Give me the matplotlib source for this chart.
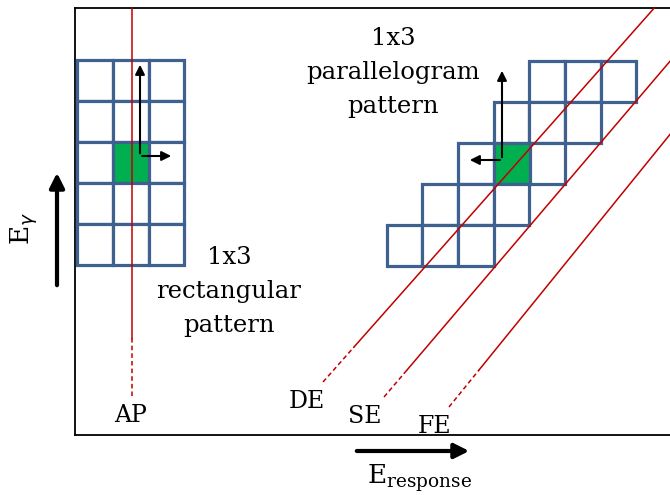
import matplotlib.pyplot as plt
from matplotlib.patches import Rectangle

plt.switch_backend('Agg')

# diagram geometry, in picture pixels (y grows downward)
cell_w = 35.8
cell_h = 40.8
n_cols = 3

# rectangular pattern: left edge of each row, top of each row
rect_x0 = [77, 77, 77, 77, 77]
rect_y0 = [60, 101, 142, 183, 224]
rect_green = (1, 2)            # (col, row)

# parallelogram pattern: each row shifts one cell to the left
para_x0 = [529, 493.5, 458, 422, 386.5]
para_y0 = [61, 102, 143, 184, 225]
para_green = (1, 2)

# energy lines: bottom end of dashes, end of dashes, label (x, baseline)
line_names = ['DE', 'SE', 'FE']
line_start = [(323, 382), (384, 397), (449, 407)]
line_dash_end = [(354, 347), (407, 370), (479, 370)]
line_label_pos = [(307, 408), (365, 423), (435, 433)]

ap_x = 132
ap_dash = (397, 338)
ap_label_pos = (131, 422)

rect_text = ['1x3', 'rectangular', 'pattern']
rect_text_x = 229
rect_text_base = [264, 298, 332]
para_text = ['1x3', 'parallelogram', 'pattern']
para_text_x = 393
para_text_base = [45, 79, 113]

grid_color = '#3E6190'
green = '#00B050'
red = '#C00000'
serif = 'DejaVu Serif'

fig = plt.figure(figsize=(6.7, 4.95), dpi=100)
ax = fig.add_axes([0, 0, 1, 1])
ax.set_xlim(0, 670)
ax.set_ylim(495, 0)
ax.axis('off')

# frame
ax.plot([75, 75], [8, 435], color='black', lw=1.3)
ax.plot([75, 672], [8, 8], color='black', lw=1.3)
ax.plot([75, 672], [435, 435], color='black', lw=1.3)


def draw_grid(xs, ys, green_cell):
    for r, (x0, y0) in enumerate(zip(xs, ys)):
        for c in range(n_cols):
            fc = green if (c, r) == green_cell else 'white'
            ax.add_patch(Rectangle((x0 + c * cell_w, y0), cell_w, cell_h,
                                   facecolor=fc, edgecolor=grid_color,
                                   lw=2.3, zorder=2))


draw_grid(rect_x0, rect_y0, rect_green)
draw_grid(para_x0, para_y0, para_green)

# AP vertical line
ax.plot([ap_x, ap_x], [8, ap_dash[1]], color=red, lw=1.1, zorder=3)
ax.plot([ap_x, ap_x], [ap_dash[1], ap_dash[0]], color=red, lw=1.1,
        ls=(0, (3, 2)), zorder=3)
ax.text(*ap_label_pos, 'AP', fontsize=17, family=serif,
        ha='center', va='baseline')

# diagonal lines
for name, (x0, y0), (x1, y1), (lx, ly) in zip(line_names, line_start,
                                               line_dash_end, line_label_pos):
    slope = (y0 - y1) / (x1 - x0)
    ax.plot([x0, x1], [y0, y1], color=red, lw=1.1, ls=(0, (3, 2)), zorder=3)
    # extend up to the top frame or to the right edge
    x_top = x1 + (y1 - 8) / slope
    if x_top > 672:
        x_top = 672
    y_top = y1 - (x_top - x1) * slope
    ax.plot([x1, x_top], [y1, y_top], color=red, lw=1.1, zorder=3)
    ax.text(lx, ly, name, fontsize=17, family=serif, ha='center', va='baseline')

# black arrows inside the grids
akw = dict(arrowstyle='-|>', color='black', lw=1.5, mutation_scale=14)
ax.annotate('', xy=(140, 62), xytext=(140, 156), arrowprops=akw, zorder=4)
ax.annotate('', xy=(174, 156), xytext=(139.3, 156), arrowprops=akw, zorder=4)
ax.annotate('', xy=(502, 68), xytext=(502, 160), arrowprops=akw, zorder=4)
ax.annotate('', xy=(467, 160), xytext=(502.7, 160), arrowprops=akw, zorder=4)

# pattern labels
for s, yb in zip(rect_text, rect_text_base):
    ax.text(rect_text_x, yb, s, fontsize=17.5, family=serif,
            ha='center', va='baseline')
for s, yb in zip(para_text, para_text_base):
    ax.text(para_text_x, yb, s, fontsize=17.5, family=serif,
            ha='center', va='baseline')

# axis arrows and labels
big = dict(arrowstyle='-|>', color='black', lw=3, mutation_scale=22)
ax.annotate('', xy=(472, 451), xytext=(354, 451), arrowprops=big)
ax.annotate('', xy=(57, 170), xytext=(57, 288), arrowprops=big)
ax.text(367, 483, r'E$_{\mathregular{response}}$', fontsize=19, family=serif,
        ha='left', va='baseline')
ax.text(24, 228, r'E$_{\gamma}$', fontsize=19, family=serif, rotation=90,
        ha='center', va='center')

fig.savefig('out.png', dpi=100)
